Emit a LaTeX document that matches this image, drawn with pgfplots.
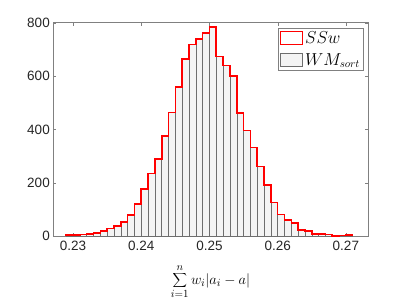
\documentclass[border=0pt]{standalone}
\usepackage{fontspec}
\setmainfont{Liberation Sans}
\usepackage{pgfplots}
\pgfplotsset{compat=1.18}

\definecolor{axgray}{RGB}{128,128,128}
\definecolor{bargray}{RGB}{244,244,244}
\definecolor{edgegray}{RGB}{110,110,110}
\definecolor{ticktext}{RGB}{38,38,38}

\begin{document}
\begin{tikzpicture}[x=1pt,y=1pt]
  \useasboundingbox (-53.3,-68.7) rectangle (353.7,236.3);
  \begin{axis}[
      at={(0,0)}, anchor=south west,
      scale only axis, width=314.4pt, height=213.6pt,
      xmin=0.2271, xmax=0.2732, ymin=0, ymax=800,
      xtick={0.23,0.24,0.25,0.26,0.27},
      xticklabels={0.23,0.24,0.25,0.26,0.27},
      ytick={0,200,400,600,800},
      tick align=inside, major tick length=3pt,
      axis line style={axgray}, tick style={axgray},
      ticklabel style={font=\fontsize{13.5}{15}\selectfont, text=ticktext},
      xticklabel style={yshift=-1.5pt},
      /pgf/number format/assume math mode=true,
      xlabel={$\displaystyle\sum_{i=1}^{n} w_i|a_i-a|$},
      xlabel style={font=\fontsize{15}{17}\selectfont, yshift=-7pt},
      legend style={at={(0.7147,0.975)}, anchor=north west, draw=axgray,
        font=\fontsize{16}{18}\selectfont, row sep=5pt,
        inner xsep=1.5pt, inner ysep=1pt},
      legend cell align=left,
    ]
    \addplot[ybar interval, fill=bargray, draw=edgegray, line width=0.5pt, forget plot]
      coordinates {
        (0.229,4) (0.230,5) (0.231,6) (0.232,9) (0.233,12) (0.234,20)
        (0.235,29) (0.236,39) (0.237,54) (0.238,80) (0.239,120) (0.240,178)
        (0.241,235) (0.242,290) (0.243,376) (0.244,463) (0.245,559) (0.246,665)
        (0.247,719) (0.248,740) (0.249,761) (0.250,785) (0.251,673) (0.252,640)
        (0.253,601) (0.254,462) (0.255,396) (0.256,332) (0.257,261) (0.258,193)
        (0.259,127) (0.260,81) (0.261,61) (0.262,49) (0.263,24) (0.264,20)
        (0.265,9) (0.266,9) (0.267,6) (0.268,2) (0.269,3) (0.270,4) (0.271,4)
      };
    \addplot[const plot, red, line width=1.6pt, forget plot]
      coordinates {
        (0.229,0)
        (0.229,4) (0.230,5) (0.231,6) (0.232,9) (0.233,12) (0.234,20)
        (0.235,29) (0.236,39) (0.237,54) (0.238,80) (0.239,120) (0.240,178)
        (0.241,235) (0.242,290) (0.243,376) (0.244,463) (0.245,559) (0.246,665)
        (0.247,719) (0.248,740) (0.249,761) (0.250,785) (0.251,673) (0.252,640)
        (0.253,601) (0.254,462) (0.255,396) (0.256,332) (0.257,261) (0.258,193)
        (0.259,127) (0.260,81) (0.261,61) (0.262,49) (0.263,24) (0.264,20)
        (0.265,9) (0.266,9) (0.267,6) (0.268,2) (0.269,3) (0.270,4) (0.271,4)
        (0.271,0)
      };
    \addlegendimage{legend image code/.code={
        \draw[red, line width=1.4pt, fill=white] (0pt,-6.5pt) rectangle (22pt,6.5pt);}}
    \addlegendentry{$SSw$}
    \addlegendimage{legend image code/.code={
        \draw[edgegray, line width=0.4pt, fill=bargray] (0pt,-6.5pt) rectangle (22pt,6.5pt);}}
    \addlegendentry{$WM_{sort}$}
  \end{axis}
\end{tikzpicture}
\end{document}
